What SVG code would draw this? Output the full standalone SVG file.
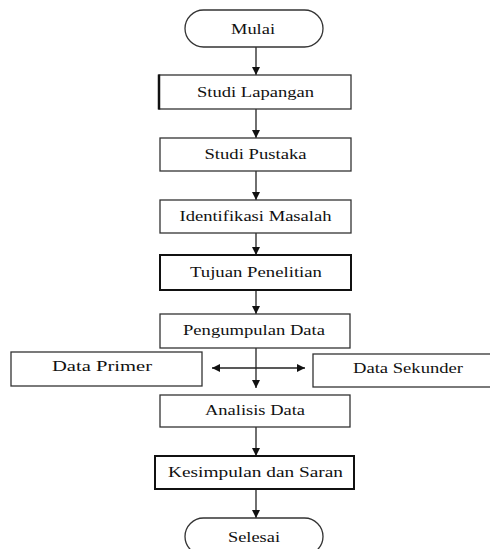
<svg xmlns="http://www.w3.org/2000/svg" width="490" height="549" viewBox="0 0 490 549">
<defs>
<marker id="ah" viewBox="0 0 10 10" refX="10" refY="5" markerWidth="8" markerHeight="8" markerUnits="userSpaceOnUse" orient="auto-start-reverse">
<path d="M0,0 L10,5 L0,10 Z" fill="#111"/>
</marker>
</defs>
<style>
.b{fill:#fff;stroke:#333;stroke-width:1.3}
.bt{fill:#fff;stroke:#111;stroke-width:2}
.t{font-family:"Liberation Serif","Times New Roman",serif;font-size:15.5px;fill:#111;text-anchor:middle}
.c{stroke:#222;stroke-width:1.3;fill:none}
</style>
<rect width="490" height="549" fill="#fff"/>
<g id="connectors">
<line class="c" x1="256" y1="47" x2="256" y2="75" marker-end="url(#ah)"/>
<line class="c" x1="256" y1="109" x2="256" y2="138" marker-end="url(#ah)"/>
<line class="c" x1="256" y1="171" x2="256" y2="200" marker-end="url(#ah)"/>
<line class="c" x1="256" y1="233" x2="256" y2="255" marker-end="url(#ah)"/>
<line class="c" x1="256" y1="290" x2="256" y2="314" marker-end="url(#ah)"/>
<line class="c" x1="256" y1="348" x2="256" y2="388" marker-end="url(#ah)"/>
<line class="c" x1="212" y1="368" x2="305" y2="368" marker-start="url(#ah)" marker-end="url(#ah)"/>
<line class="c" x1="256" y1="427" x2="256" y2="456" marker-end="url(#ah)"/>
<line class="c" x1="256" y1="489" x2="256" y2="518" marker-end="url(#ah)"/>
</g>
<g id="mulai">
<rect class="b" x="185" y="10" width="138" height="37" rx="18.5" ry="18.5"/>
<text class="t" x="253" y="34" textLength="44" lengthAdjust="spacingAndGlyphs">Mulai</text>
</g>
<g id="studi-lapangan">
<rect class="b" x="159" y="75" width="192" height="34"/>
<line x1="159" y1="74.5" x2="159" y2="109.5" stroke="#111" stroke-width="2.5"/>
<text class="t" x="255.5" y="97" textLength="117" lengthAdjust="spacingAndGlyphs">Studi Lapangan</text>
</g>
<g id="studi-pustaka">
<rect class="b" x="160" y="138" width="191" height="33"/>
<text class="t" x="255.5" y="159" textLength="102" lengthAdjust="spacingAndGlyphs">Studi Pustaka</text>
</g>
<g id="identifikasi-masalah">
<rect class="b" x="160" y="200" width="191" height="33"/>
<text class="t" x="255.5" y="221" textLength="152" lengthAdjust="spacingAndGlyphs">Identifikasi Masalah</text>
</g>
<g id="tujuan-penelitian">
<rect class="bt" x="160" y="255" width="191" height="35"/>
<text class="t" x="256" y="277" textLength="132" lengthAdjust="spacingAndGlyphs">Tujuan Penelitian</text>
</g>
<g id="pengumpulan-data">
<rect class="b" x="160" y="314" width="190" height="34"/>
<text class="t" x="254" y="335" textLength="142" lengthAdjust="spacingAndGlyphs">Pengumpulan Data</text>
</g>
<g id="data-primer">
<rect class="b" x="11" y="352" width="191" height="34"/>
<text class="t" x="102" y="371" textLength="100" lengthAdjust="spacingAndGlyphs">Data Primer</text>
</g>
<g id="data-sekunder">
<rect class="b" x="313" y="354" width="190" height="33"/>
<text class="t" x="408" y="373" textLength="110" lengthAdjust="spacingAndGlyphs">Data Sekunder</text>
</g>
<g id="analisis-data">
<rect class="b" x="160" y="395" width="190" height="32"/>
<text class="t" x="255" y="415" textLength="100" lengthAdjust="spacingAndGlyphs">Analisis Data</text>
</g>
<g id="kesimpulan-saran">
<rect class="bt" x="155" y="456" width="199" height="33"/>
<text class="t" x="255.5" y="477" textLength="175" lengthAdjust="spacingAndGlyphs">Kesimpulan dan Saran</text>
</g>
<g id="selesai">
<rect class="b" x="185" y="518" width="138" height="37" rx="18.5" ry="18.5"/>
<text class="t" x="254" y="542" textLength="52" lengthAdjust="spacingAndGlyphs">Selesai</text>
</g>
</svg>
